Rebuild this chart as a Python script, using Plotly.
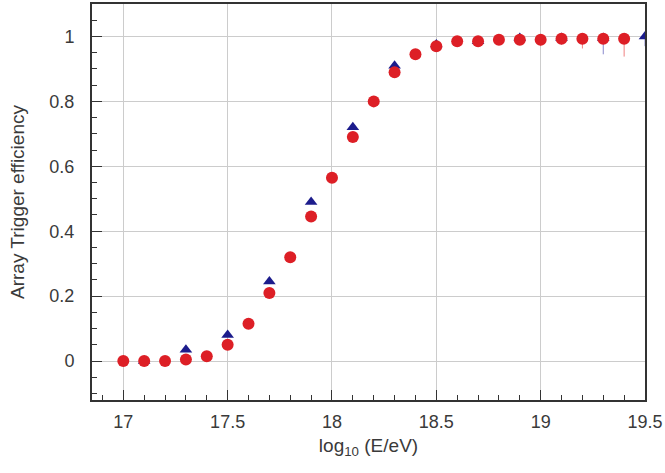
import plotly.graph_objects as go

# Red circles (every 0.1 in log10 E)
red_x = [17.0, 17.1, 17.2, 17.3, 17.4, 17.5, 17.6, 17.7, 17.8, 17.9, 18.0, 18.1, 18.2,
         18.3, 18.4, 18.5, 18.6, 18.7, 18.8, 18.9, 19.0, 19.1, 19.2, 19.3, 19.4]
red_y = [0.0, 0.0, 0.0, 0.005, 0.015, 0.05, 0.115, 0.21, 0.32, 0.445, 0.565, 0.69, 0.80,
         0.89, 0.945, 0.97, 0.985, 0.985, 0.99, 0.99, 0.99, 0.993, 0.993, 0.993, 0.993]
red_err = [0, 0, 0, 0, 0, 0, 0, 0, 0, 0, 0, 0, 0,
           0, 0, 0, 0, 0, 0, 0, 0.02, 0, 0.03, 0, 0.055]

# Blue triangles (every 0.2 in log10 E)
blue_x = [17.1, 17.3, 17.5, 17.7, 17.9, 18.1, 18.3, 18.5, 18.7, 18.9, 19.1, 19.3, 19.5]
blue_y = [0.0, 0.035, 0.08, 0.245, 0.49, 0.72, 0.91, 0.975, 0.985, 0.995, 0.995, 0.995, 1.0]
blue_err = [0, 0, 0, 0, 0, 0, 0, 0, 0, 0, 0.02, 0.05, 0.03]

FONT = "Liberation Sans, Arial, sans-serif"
TXT = "#3a3a3a"

fig = go.Figure()
fig.add_trace(go.Scatter(
    x=blue_x, y=blue_y, mode="markers",
    marker=dict(symbol="triangle-up", size=11, color="#1c1c8c"),
    error_y=dict(type="data", symmetric=False, array=[0]*len(blue_x), arrayminus=blue_err,
                 color="#8888cc", thickness=1, width=0),
    showlegend=False))
fig.add_trace(go.Scatter(
    x=red_x, y=red_y, mode="markers",
    marker=dict(symbol="circle", size=12, color="#dd1f26"),
    error_y=dict(type="data", symmetric=False, array=[0]*len(red_x), arrayminus=red_err,
                 color="#f08080", thickness=1, width=0),
    showlegend=False))

axis_common = dict(
    showline=True, linecolor="#333333", linewidth=2, mirror=True,
    showgrid=True, gridcolor="#cccccc", gridwidth=1,
    ticks="inside", ticklen=10, tickcolor="#333333", zeroline=False,
    tickfont=dict(family=FONT, size=18, color=TXT),
)

fig.update_xaxes(range=[16.85, 19.5], tickvals=[17, 17.5, 18, 18.5, 19, 19.5],
                 ticktext=["17", "17.5", "18", "18.5", "19", "19.5"],
                 ticklabelstandoff=4,
                 minor=dict(dtick=0.1, tick0=17, ticks="inside", ticklen=5, tickcolor="#333333", showgrid=False),
                 title=dict(text="log<sub>10</sub> (E/eV)", standoff=8,
                            font=dict(family=FONT, size=19, color=TXT)),
                 **axis_common)
fig.update_yaxes(range=[-0.12, 1.1], tickvals=[0, 0.2, 0.4, 0.6, 0.8, 1],
                 ticktext=["0", "0.2", "0.4", "0.6", "0.8", "1"],
                 ticklabelstandoff=12,
                 minor=dict(dtick=0.05, tick0=0, ticks="inside", ticklen=5, tickcolor="#333333", showgrid=False),
                 title=dict(text="Array Trigger efficiency", standoff=20,
                            font=dict(family=FONT, size=19, color=TXT)),
                 **axis_common)

fig.update_layout(
    width=665, height=473,
    margin=dict(l=92, r=18, t=2, b=73),
    plot_bgcolor="white", paper_bgcolor="white",
)

fig.write_html("out.html")
